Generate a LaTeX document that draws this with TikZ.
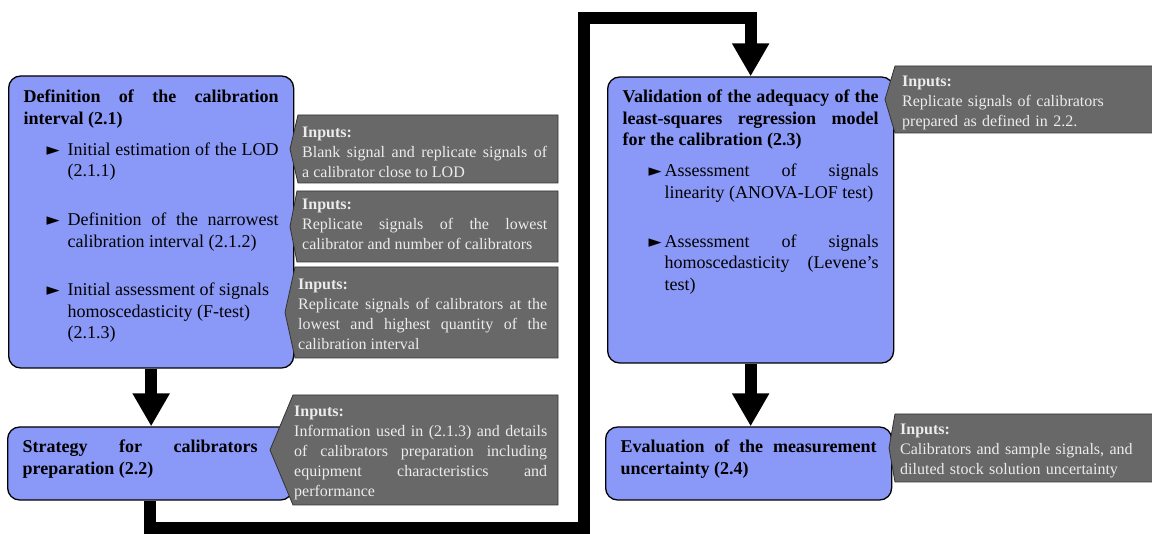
\documentclass[tikz,border=0pt]{standalone}
\usepackage{fontspec}
\setmainfont{Liberation Serif}
\newfontfamily\symfont{DejaVu Sans}
\usetikzlibrary{arrows.meta}
\definecolor{stepblue}{RGB}{138,153,247}
\definecolor{inputgray}{RGB}{104,104,104}
\definecolor{inputtext}{RGB}{236,236,236}
\tikzset{
>={Triangle[width=35pt,length=33pt]},
stepbox/.style={draw=black, line width=1.3pt, fill=stepblue, rounded corners=12pt,
  inner xsep=15pt, inner ysep=0pt, anchor=base west, align=justify,
  font=\fontsize{18pt}{21.5pt}\selectfont},
inputtxt/.style={inner sep=0pt, anchor=base west, align=justify, text=inputtext,
  font=\fontsize{16pt}{19.8pt}\selectfont},
inshape/.style={draw=black!80, line width=0.8pt, fill=inputgray},
flow/.style={->, line width=12pt, line join=miter}
}
\newcommand{\bul}{{\symfont\fontsize{17pt}{17pt}\selectfont ►}}
\newcommand{\stepitem}[4]{\par\vspace{#1}\noindent\hspace*{#2}\makebox[#3][l]{\bul}%
  \parbox[t]{\dimexpr\linewidth-#2-#3\relax}{#4}}

\begin{document}
\begin{tikzpicture}[x=1pt,y=-1pt]
 \useasboundingbox (0,0) rectangle (1152,534);
 \clip (0,0) rectangle (1152,534);

 \node[stepbox, text width=255pt, text height=27pt, text depth=265pt] (defint) at (8,103)
  {\textbf{Definition of the calibration\linebreak interval (2.1)}
   \stepitem{9.5pt}{23pt}{21pt}{Initial estimation of the LOD\linebreak (2.1.1)}
   \stepitem{31pt}{23pt}{21pt}{Definition of the narrowest\linebreak calibration interval (2.1.2)}
   \stepitem{31pt}{23pt}{21pt}{Initial assessment of signals\\ homoscedasticity (F-test)\\ (2.1.3)}};
 \node[stepbox, text width=255pt, text height=26pt, text depth=47pt] (strategy) at (7,453)
  {\parbox[t]{235pt}{\bfseries Strategy for calibrators\linebreak preparation (2.2)}};
 \node[stepbox, text width=256pt, text height=26pt, text depth=260pt] (validation) at (607,103)
  {\textbf{Validation of the adequacy of the\linebreak least-squares regression model\linebreak for the calibration (2.3)}
   \stepitem{9.5pt}{26pt}{16pt}{Assessment of signals\linebreak linearity (ANOVA-LOF test)}
   \stepitem{31pt}{26pt}{16pt}{Assessment of signals\linebreak homoscedasticity (Levene’s\linebreak test)}};
 \node[stepbox, text width=256pt, text height=26pt, text depth=47pt] (evaluation) at (605,453)
  {\textbf{Evaluation of the measurement\linebreak uncertainty (2.4)}};

 \foreach \xl/\xr/\yt/\yb/\xt in {298/558/115/183/290, 297/558/191/262/290, 295/558/267/358/285,
   293/558/395/505/270, 895/1165/66/133/885, 895/1165/414/482/889}
  \draw[inshape] (\xl,\yt) -- (\xr,\yt) -- (\xr,\yb) -- (\xl,\yb) -- (\xt,{(\yt+\yb)/2}) -- cycle;

 \node[inputtxt, text width=245pt] (inlod) at (302,138)
  {\textbf{Inputs:}\\ Blank signal and replicate signals of\linebreak a calibrator close to LOD};
 \node[inputtxt, text width=245pt] (innarrow) at (302,210)
  {\textbf{Inputs:}\\ Replicate signals of the lowest\linebreak calibrator and number of calibrators};
 \node[inputtxt, text width=249pt] (inftest) at (298,290)
  {\textbf{Inputs:}\\ Replicate signals of calibrators at the\linebreak lowest and highest quantity of the\linebreak calibration interval};
 \node[inputtxt, text width=253pt] (instrategy) at (294,417)
  {\textbf{Inputs:}\\ Information used in (2.1.3) and details\linebreak of calibrators preparation including\linebreak equipment characteristics and\linebreak performance};
 \node[inputtxt, text width=245pt, align=left] (invalid) at (902,87)
  {\textbf{Inputs:}\\ Replicate signals of calibrators\\ prepared as defined in 2.2.};
 \node[inputtxt, text width=245pt, align=left] (ineval) at (900,435)
  {\textbf{Inputs:}\\ Calibrators and sample signals, and\\ diluted stock solution uncertainty};

 \coordinate (loopbot) at (584,528);
 \coordinate (looptop) at (584,18.5);
 \draw[flow] (defint.south) -- (defint.south |- strategy.north);
 \draw[flow] (strategy.south) |- (loopbot) -- (looptop) -| (validation.north);
 \draw[flow] (validation.south) -- (validation.south |- evaluation.north);
\end{tikzpicture}
\end{document}
